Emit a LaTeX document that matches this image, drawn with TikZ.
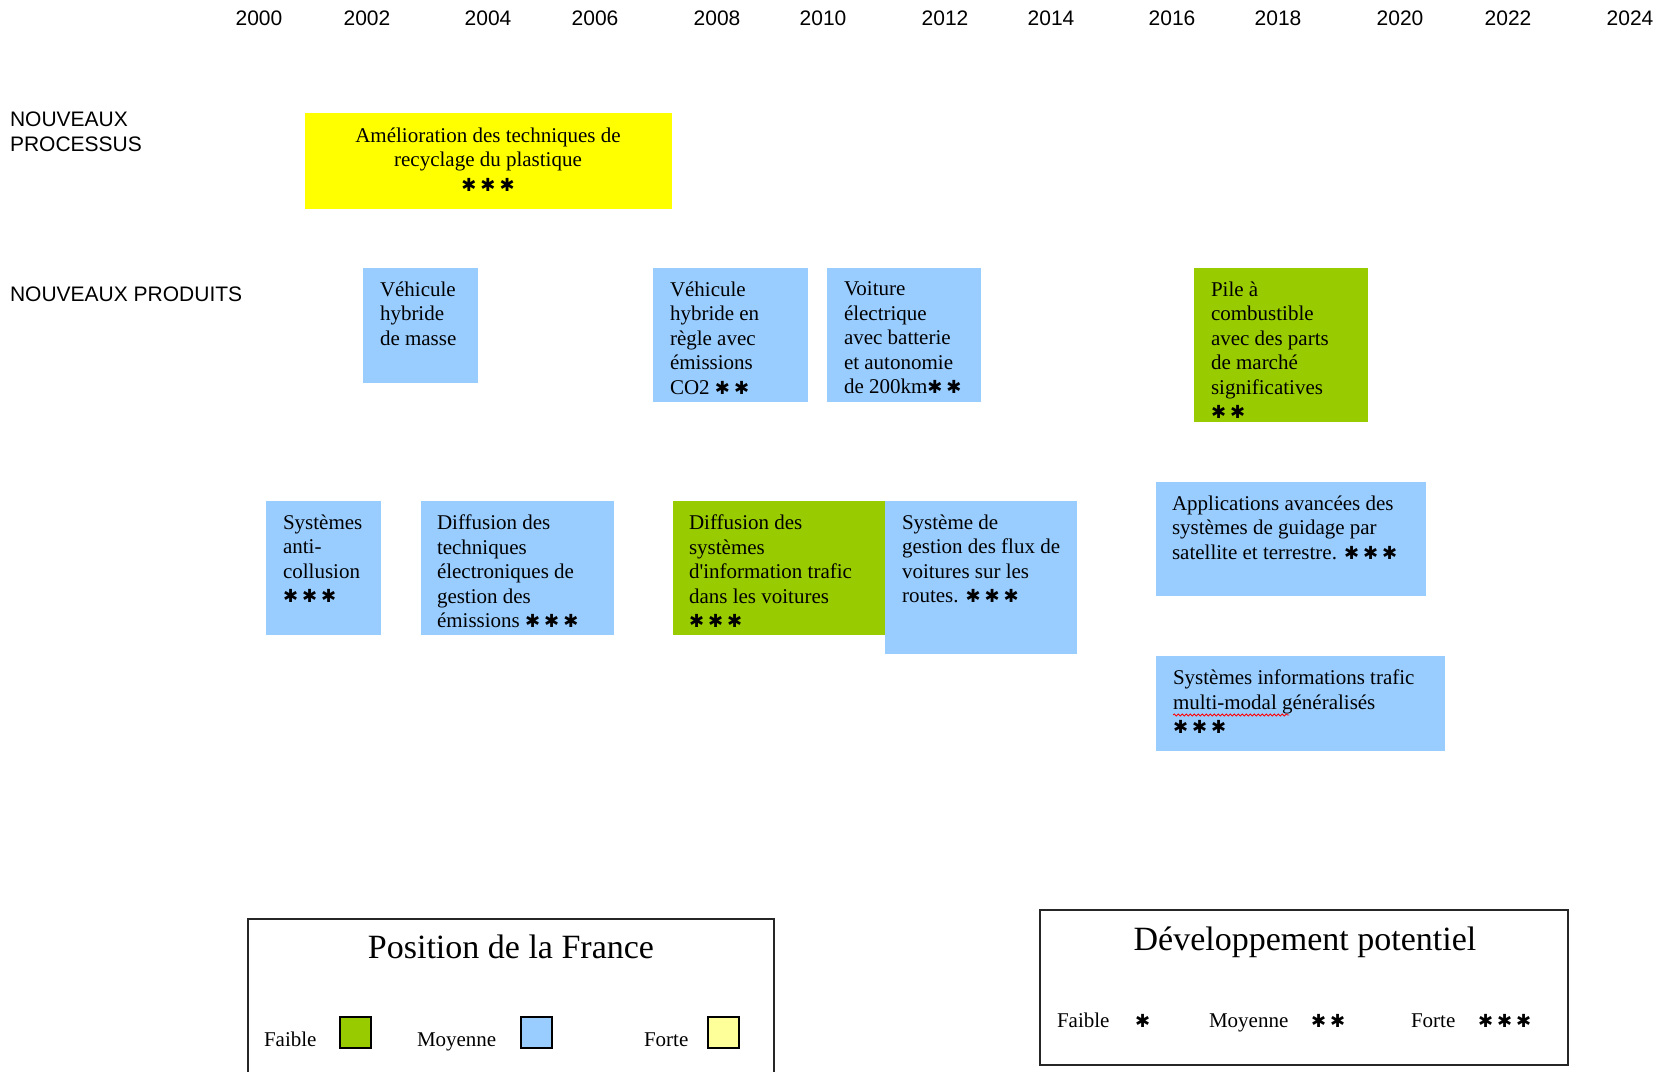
\documentclass[tikz,border=0pt]{standalone}
\usepackage{fontspec}
\setmainfont{Liberation Serif}[Ligatures=TeXOff]
\newfontfamily\labelsans{Liberation Sans}
\newfontfamily\symbolfont{DejaVu Sans}
\usetikzlibrary{decorations.pathmorphing}

\definecolor{posweak}{HTML}{99CC00}
\definecolor{posmid}{HTML}{99CCFF}
\definecolor{posstrong}{HTML}{FFFF00}
\definecolor{posstronglight}{HTML}{FFFF99}

% rating stars
\newcommand{\onestar}{{\symbolfont\fontsize{18}{18}\selectfont ✱}}
\newcommand{\twostars}{\onestar\hspace{4pt}\onestar}
\newcommand{\threestars}{\onestar\hspace{4pt}\onestar\hspace{4pt}\onestar}

\begin{document}
\begin{tikzpicture}[x=1pt,y=-1pt,
  every node/.style={inner sep=0pt, outer sep=0pt},
  tile/.style={anchor=north west, draw=none},
  tiletext/.style={anchor=north west, align=left,
    font=\fontsize{21}{24.5}\selectfont, execute at begin node=\strut},
  yearlabel/.style={anchor=base, font=\labelsans\fontsize{21}{25}\selectfont},
  rowlabel/.style={anchor=north west, align=left,
    font=\labelsans\fontsize{21}{25}\selectfont, execute at begin node=\strut},
  legframe/.style={anchor=north west, draw=black!85, line width=1.6pt},
  legtitle/.style={anchor=base, font=\fontsize{34}{40}\selectfont},
  legitem/.style={anchor=base west, font=\fontsize{21}{25}\selectfont},
  swatch/.style={anchor=north west, draw=black, line width=1.6pt,
    minimum width=31pt, minimum height=31pt}
]
\fill[white] (0,0) rectangle (1656,1071);
\useasboundingbox (0,0) rectangle (1656,1071);

% time axis
\foreach \yr/\xc in {2000/259,2002/367,2004/488,2006/595,2008/717,2010/823,
  2012/945,2014/1051,2016/1172,2018/1278,2020/1400,2022/1508,2024/1630}
  \node[yearlabel] (yr\yr) at (\xc,25) {\yr};

% row headings
\node[rowlabel] (rowproc) at (10,129-17.5) {NOUVEAUX\\PROCESSUS};
\node[rowlabel] (rowprod) at (10,301-17.5) {NOUVEAUX PRODUITS};

% new processes
\node[tile, fill=posstrong, minimum width=367pt, minimum height=96pt] (recyc) at (305,113) {};
\node[tiletext, anchor=north, align=center] (recyct) at (488,145-17.15)
  {Amélioration des techniques de\\recyclage du plastique\\\threestars};

% new products, upper row
\node[tile, fill=posmid, minimum width=115pt, minimum height=115pt] (hybm) at (363,268) {};
\node[tiletext] (hybmt) at (380,299-17.15) {Véhicule\\hybride\\de masse};

\node[tile, fill=posmid, minimum width=155pt, minimum height=134pt] (hybr) at (653,268) {};
\node[tiletext] (hybrt) at (670,299-17.15)
  {Véhicule\\hybride en\\règle avec\\émissions\\CO2 \twostars};

\node[tile, fill=posmid, minimum width=154pt, minimum height=134pt] (elec) at (827,268) {};
\node[tiletext] (elect) at (844,299-17.15)
  {Voiture\\électrique\\avec batterie\\et autonomie\\de 200km\twostars};

\node[tile, fill=posweak, minimum width=174pt, minimum height=154pt] (pile) at (1194,268) {};
\node[tiletext] (pilet) at (1211,299-17.15)
  {Pile à\\combustible\\avec des parts\\de marché\\significatives\\\twostars};

% new products, lower rows
\node[tile, fill=posmid, minimum width=115pt, minimum height=134pt] (anti) at (266,501) {};
\node[tiletext] (antit) at (283,532-17.15)
  {Systèmes\\anti-\\collusion\\\threestars};

\node[tile, fill=posmid, minimum width=193pt, minimum height=134pt] (diffe) at (421,501) {};
\node[tiletext] (diffet) at (437,532-17.15)
  {Diffusion des\\techniques\\électroniques de\\gestion des\\émissions \threestars};

\node[tile, fill=posweak, minimum width=212pt, minimum height=134pt] (diffs) at (673,501) {};
\node[tiletext] (diffst) at (689,532-17.15)
  {Diffusion des\\systèmes\\d'information trafic\\dans les voitures\\\threestars};

\node[tile, fill=posmid, minimum width=192pt, minimum height=153pt] (flux) at (885,501) {};
\node[tiletext] (fluxt) at (902,532-17.15)
  {Système de\\gestion des flux de\\voitures sur les\\routes. \threestars};

\node[tile, fill=posmid, minimum width=270pt, minimum height=114pt] (guid) at (1156,482) {};
\node[tiletext] (guidt) at (1172,513-17.15)
  {Applications avancées des\\systèmes de guidage par\\satellite et terrestre. \threestars};

\node[tile, fill=posmid, minimum width=289pt, minimum height=95pt] (info) at (1156,656) {};
\node[tiletext] (infot) at (1173,687-17.15)
  {Systèmes informations trafic\\multi-modal généralisés\\\threestars};
\coordinate (sqa) at (1173,715);
\coordinate (sqb) at (1289,715);
\draw[red, line width=0.8pt, decorate,
  decoration={snake, amplitude=1.1pt, segment length=4pt}] (sqa) -- (sqb);

% legend: position of France
\node[legframe, minimum width=526pt, minimum height=170pt] (legpos) at (248,919) {};
\node[legtitle] (legpost) at (511,958) {Position de la France};
\node[legitem] (lpweak) at (264,1046) {Faible};
\node[swatch, fill=posweak] (swweak) at (340,1017) {};
\node[legitem] (lpmid) at (417,1046) {Moyenne};
\node[swatch, fill=posmid] (swmid) at (521,1017) {};
\node[legitem] (lpstrong) at (644,1046) {Forte};
\node[swatch, fill=posstronglight] (swstrong) at (708,1017) {};

% legend: development potential
\node[legframe, minimum width=528pt, minimum height=155pt] (legdev) at (1040,910) {};
\node[legtitle] (legdevt) at (1305,950) {Développement potentiel};
\node[legitem] (ldweak) at (1057,1027) {Faible};
\node[legitem] (ldweaks) at (1135,1027) {\onestar};
\node[legitem] (ldmid) at (1209,1027) {Moyenne};
\node[legitem] (ldmids) at (1311,1027) {\twostars};
\node[legitem] (ldstrong) at (1411,1027) {Forte};
\node[legitem] (ldstrongs) at (1478,1027) {\threestars};
\end{tikzpicture}
\end{document}
